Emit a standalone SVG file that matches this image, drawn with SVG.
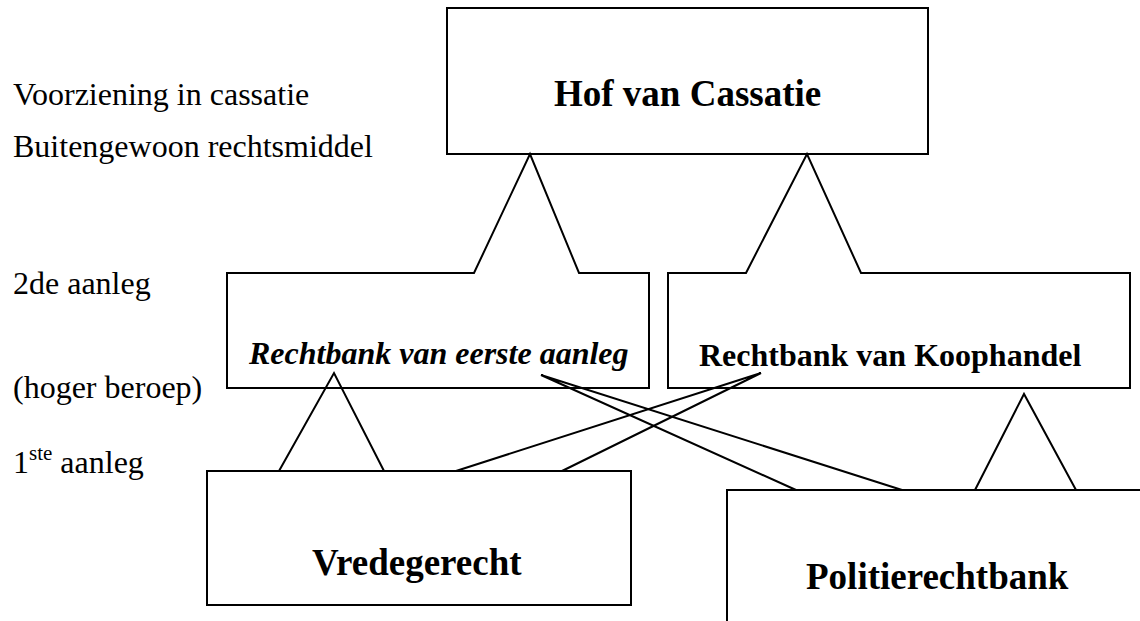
<svg xmlns="http://www.w3.org/2000/svg" width="1140" height="621" viewBox="0 0 1140 621">
<style>
.ln{fill:none;stroke:#000;stroke-width:2;stroke-linejoin:miter}
.bx{fill:#fff;stroke:#000;stroke-width:2}
.t{font-family:"Liberation Serif","Times New Roman",serif;font-size:32px;fill:#000}
.b{font-weight:bold}
.big{font-size:37px;font-weight:bold}
</style>
<rect width="1140" height="621" fill="#fff"/>
<g id="labels">
<text class="t" x="13" y="105">Voorziening in cassatie</text>
<text class="t" x="13" y="157">Buitengewoon rechtsmiddel</text>
<text class="t" x="13" y="294">2de aanleg</text>
<text class="t" x="13" y="398">(hoger beroep)</text>
<text class="t" x="13" y="473">1<tspan font-size="21" dy="-13">ste</tspan><tspan dy="13"> aanleg</tspan></text>
</g>
<g id="hof">
<rect class="bx" x="447" y="8" width="481" height="146"/>
<text class="t big" x="554" y="106">Hof van Cassatie</text>
</g>
<g id="eerste">
<path class="bx" d="M227,273 H474 L530,154 L579,273 H649 V388 H227 Z"/>
<text class="t b" font-style="italic" x="249" y="364">Rechtbank van eerste aanleg</text>
</g>
<g id="koophandel">
<path class="bx" d="M668,273 H746 L807,154 L861,273 H1130 V388 H668 Z"/>
<text class="t b" x="699" y="366">Rechtbank van Koophandel</text>
</g>
<g id="vredegerecht">
<rect class="bx" x="207" y="471" width="424" height="134"/>
<text class="t big" x="312" y="575">Vredegerecht</text>
</g>
<g id="politierechtbank">
<rect class="bx" x="727" y="490" width="450" height="200"/>
<text class="t big" x="806" y="589">Politierechtbank</text>
</g>
<g id="connectors">
<polyline class="ln" points="279,471 334,373 384,471"/>
<polyline class="ln" points="975,490 1024,394 1076,490"/>
<polyline class="ln" points="456,471 761,373 562,471"/>
<polyline class="ln" points="796,490 541,375 902,490"/>
</g>
</svg>
